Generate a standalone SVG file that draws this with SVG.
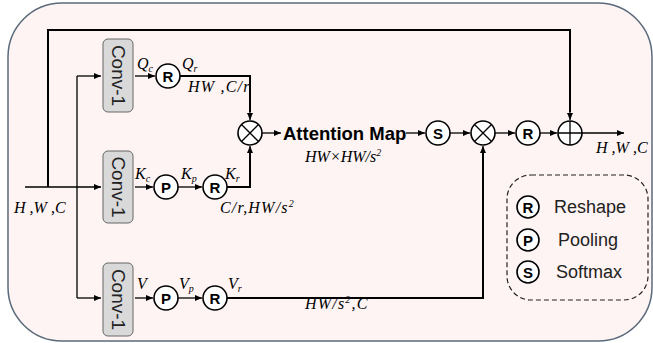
<svg xmlns="http://www.w3.org/2000/svg" width="653" height="343" viewBox="0 0 653 343">
<defs>
<marker id="ah" markerWidth="8" markerHeight="6" refX="7" refY="3" orient="auto" markerUnits="userSpaceOnUse">
<path d="M0,0 L7,3 L0,6 z" fill="#000"/>
</marker>
<style>
.ln{fill:none;stroke:#000;stroke-width:1.3}
.thk{fill:none;stroke:#000;stroke-width:2}
.conv{fill:#d9d9d9;stroke:#666;stroke-width:1}
.ct{font-family:"Liberation Sans",Arial,sans-serif;font-size:19px;fill:#222;text-anchor:middle;dominant-baseline:central}
.op{fill:#fff;stroke:#000;stroke-width:1.6}
.ol{font-family:"Liberation Sans",Arial,sans-serif;font-size:15px;font-weight:bold;fill:#000;text-anchor:middle;dominant-baseline:central}
.m{font-family:"Liberation Serif","Times New Roman",serif;font-style:italic;font-size:16px;fill:#000}
.sp{letter-spacing:1.2px}
.sub{font-size:10px}
.lg{font-family:"Liberation Sans",Arial,sans-serif;font-size:18px;fill:#222}
</style>
</defs>
<rect x="8" y="3" width="644" height="338" rx="54" ry="54" fill="#fdf4f3" stroke="#5b6a7a" stroke-width="1.5"/>

<g id="connectors">
<path class="ln" d="M25,187 H101" marker-end="url(#ah)"/>
<path class="thk" d="M48,187 V30 H570 V112"/>
<path class="ln" d="M570,110 V120" marker-end="url(#ah)"/>
<path class="ln" d="M77,76 V298"/>
<path class="ln" d="M77,76 H101" marker-end="url(#ah)"/>
<path class="ln" d="M77,298 H101" marker-end="url(#ah)"/>
<path class="ln" d="M135,76 H155" marker-end="url(#ah)"/>
<path class="thk" d="M180,76 H250 V112"/>
<path class="ln" d="M250,110 V120" marker-end="url(#ah)"/>
<path class="ln" d="M135,187 H153" marker-end="url(#ah)"/>
<path class="ln" d="M178,187 H202" marker-end="url(#ah)"/>
<path class="thk" d="M227,187 H250 V152"/>
<path class="ln" d="M250,156 V146" marker-end="url(#ah)"/>
<path class="ln" d="M135,298 H153" marker-end="url(#ah)"/>
<path class="ln" d="M178,298 H202" marker-end="url(#ah)"/>
<path class="thk" d="M227,298 H483 V152"/>
<path class="ln" d="M483,156 V146" marker-end="url(#ah)"/>
<path class="ln" d="M262,133 H281" marker-end="url(#ah)"/>
<path class="ln" d="M406,133 H425" marker-end="url(#ah)"/>
<path class="ln" d="M450,133 H470" marker-end="url(#ah)"/>
<path class="ln" d="M495,133 H515" marker-end="url(#ah)"/>
<path class="ln" d="M540,133 H557" marker-end="url(#ah)"/>
<path class="ln" d="M582,133 H624" marker-end="url(#ah)"/>
</g>

<g id="conv-q"><rect class="conv" x="103" y="39" width="30" height="73" rx="5"/><text class="ct" transform="translate(118,75.5) rotate(90)">Conv-1</text></g>
<g id="conv-k"><rect class="conv" x="103" y="151" width="30" height="72" rx="5"/><text class="ct" transform="translate(118,187) rotate(90)">Conv-1</text></g>
<g id="conv-v"><rect class="conv" x="103" y="263" width="30" height="73" rx="5"/><text class="ct" transform="translate(118,299.5) rotate(90)">Conv-1</text></g>

<g id="reshape-q"><circle class="op" cx="168" cy="76" r="12"/><text class="ol" x="168" y="76.5">R</text></g>
<g id="pool-k"><circle class="op" cx="166" cy="187" r="12"/><text class="ol" x="166" y="187.5">P</text></g>
<g id="reshape-k"><circle class="op" cx="215" cy="187" r="12"/><text class="ol" x="215" y="187.5">R</text></g>
<g id="pool-v"><circle class="op" cx="166" cy="298" r="12"/><text class="ol" x="166" y="298.5">P</text></g>
<g id="reshape-v"><circle class="op" cx="215" cy="298" r="12"/><text class="ol" x="215" y="298.5">R</text></g>

<g id="mul1"><circle class="op" cx="250" cy="133" r="12"/><path class="ln" d="M241.5,124.5 L258.5,141.5 M258.5,124.5 L241.5,141.5"/></g>
<g id="attention"><text x="283" y="139.5" font-family="Liberation Sans,Arial,sans-serif" font-size="18.5" font-weight="bold" fill="#000">Attention Map</text></g>
<g id="softmax"><circle class="op" cx="438" cy="133" r="12"/><text class="ol" x="438" y="133.5">S</text></g>
<g id="mul2"><circle class="op" cx="483" cy="133" r="12"/><path class="ln" d="M474.5,124.5 L491.5,141.5 M491.5,124.5 L474.5,141.5"/></g>
<g id="reshape-o"><circle class="op" cx="528" cy="133" r="12"/><text class="ol" x="528" y="133.5">R</text></g>
<g id="add"><circle class="op" cx="570" cy="133" r="12"/><path class="ln" d="M558,133 H582 M570,121 V145"/></g>

<g id="labels">
<text class="m" x="14" y="213">H ,W ,C</text>
<text class="m" x="596" y="153">H ,W ,C</text>
<text class="m" x="137" y="69">Q<tspan class="sub" dy="3">c</tspan></text>
<text class="m" x="182" y="69">Q<tspan class="sub" dy="3">r</tspan></text>
<text class="m sp" x="188" y="92">HW ,C/r</text>
<text class="m" x="135" y="179">K<tspan class="sub" dy="3">c</tspan></text>
<text class="m" x="181" y="179">K<tspan class="sub" dy="3">p</tspan></text>
<text class="m" x="225" y="179">K<tspan class="sub" dy="3">r</tspan></text>
<text class="m sp" x="220" y="213">C/r,HW/s<tspan class="sub" dy="-6">2</tspan></text>
<text class="m" x="137" y="289">V</text>
<text class="m" x="179" y="289">V<tspan class="sub" dy="3">p</tspan></text>
<text class="m" x="228" y="289">V<tspan class="sub" dy="3">r</tspan></text>
<text class="m" x="305" y="162">HW×HW/s<tspan class="sub" dy="-6">2</tspan></text>
<text class="m sp" x="305" y="309">HW/s<tspan class="sub" dy="-6">2</tspan><tspan dy="6">,C</tspan></text>
</g>

<g id="legend">
<rect x="507" y="175" width="141" height="125" rx="24" fill="none" stroke="#222" stroke-width="1.2" stroke-dasharray="5,3"/>
<circle class="op" cx="528" cy="207" r="11"/><text class="ol" x="528" y="207.5">R</text>
<text class="lg" x="554" y="213">Reshape</text>
<circle class="op" cx="528" cy="240" r="11"/><text class="ol" x="528" y="240.5">P</text>
<text class="lg" x="558" y="246">Pooling</text>
<circle class="op" cx="528" cy="272" r="11"/><text class="ol" x="528" y="272.5">S</text>
<text class="lg" x="556" y="278">Softmax</text>
</g>
</svg>
